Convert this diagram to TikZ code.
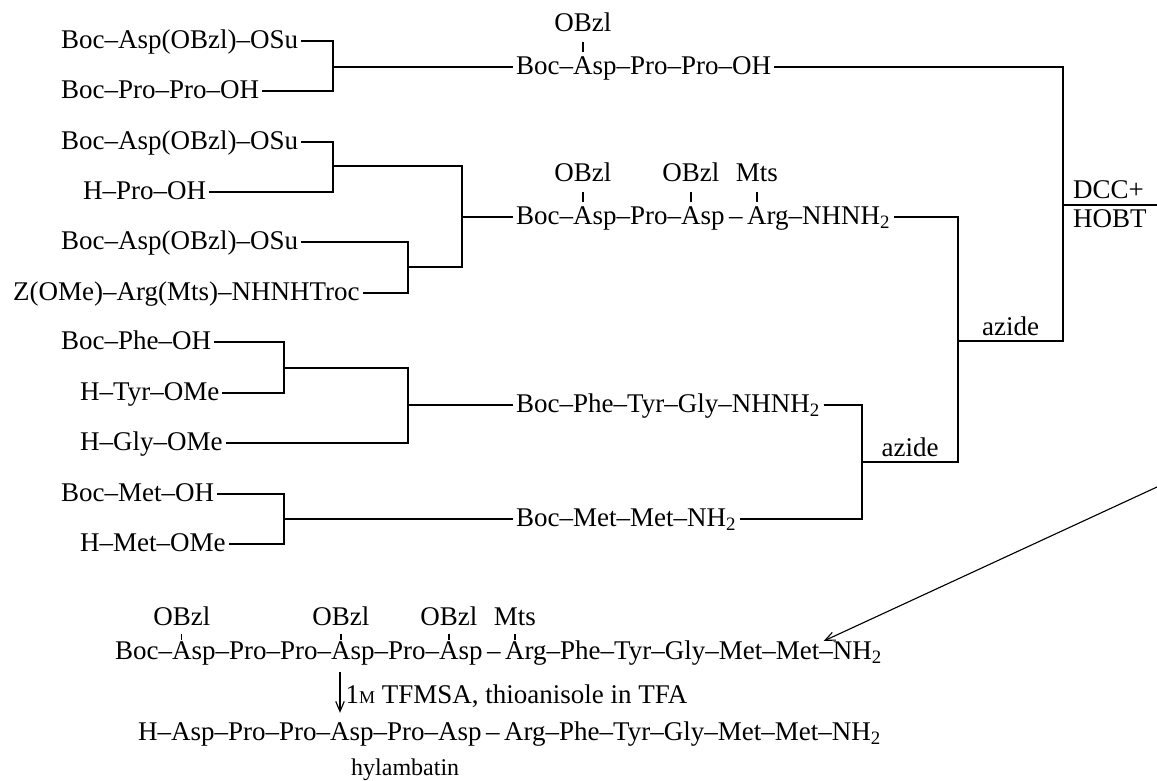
\documentclass[tikz,border=0pt]{standalone}
\usepackage{fontspec}
\setmainfont{Liberation Serif}
\usetikzlibrary{arrows.meta,positioning,calc}
\newcommand\pepfont{\fontsize{10.8}{12.9}\selectfont}
% protecting group set over a residue, with a short bond
\newcommand\grpraise{17pt}
\newcommand\tickbase{8.8pt}
\newcommand\ticklen{4pt}
\newcommand\sidegrp[2]{%
  \ooalign{#2\cr
    \hidewidth\raisebox{\grpraise}[0pt][0pt]{#1}\hidewidth\cr
    \hidewidth\raisebox{\tickbase}[0pt][0pt]{\rule{0.45pt}{\ticklen}}\hidewidth\cr}}
\tikzset{
  pep/.style={font=\pepfont, inner sep=1pt, text height=5.6pt, text depth=0pt, anchor=west},
  lbl/.style={font=\pepfont, inner sep=2pt, text height=5.6pt, text depth=0pt, above},
  lowgrp/.style={execute at begin node={\def\grpraise{13.6pt}\def\tickbase{7.6pt}\def\ticklen{2.4pt}}},
  thinarr/.style={-{Straight Barb[length=4pt,width=3.4pt]}, line width=0.45pt}
}
\begin{document}
\begin{tikzpicture}[x=0.4pt, y=-0.4pt, line width=0.55pt]
\useasboundingbox (0,0) rectangle (1157,780);

% starting materials
\node[pep] (a1) at (58,41) {Boc--Asp(OBzl)--OSu};
\node[pep] (a2) at (58,91) {Boc--Pro--Pro--OH};
\node[pep] (a3) at (58,142) {Boc--Asp(OBzl)--OSu};
\node[pep] (a4) at (80,192) {H--Pro--OH};
\node[pep] (a5) at (58,242) {Boc--Asp(OBzl)--OSu};
\node[pep] (a6) at (10,293) {Z(OMe)--Arg(Mts)--NHNHTroc};
\node[pep] (a7) at (58,342) {Boc--Phe--OH};
\node[pep] (a8) at (77,393) {H--Tyr--OMe};
\node[pep] (a9) at (77,443) {H--Gly--OMe};
\node[pep] (a10) at (58,494) {Boc--Met--OH};
\node[pep] (a11) at (77,544) {H--Met--OMe};

% fragments
\node[pep] (p1) at (513,67) {Boc--\sidegrp{OBzl}{A}sp--Pro--Pro--OH};
\node[pep] (p2) at (513,217) {Boc--\sidegrp{OBzl}{A}sp--Pro--\sidegrp{OBzl}{A}sp\,--\,\sidegrp{Mts}{A}rg--NHNH\textsubscript{2}};
\node[pep] (p3) at (513,405) {Boc--Phe--Tyr--Gly--NHNH\textsubscript{2}};
\node[pep] (p4) at (513,519) {Boc--Met--Met--NH\textsubscript{2}};

% junctions
\coordinate (j1) at (333,67);
\coordinate (j2) at (333,166);
\coordinate (j3) at (408,267);
\coordinate (j4) at (462,217);
\coordinate (j5) at (284,368);
\coordinate (j6) at (408,405);
\coordinate (j7) at (284,519);
\coordinate (j8) at (862,462);
\coordinate (j9) at (958,341);
\coordinate (j10) at (1063,205);
\coordinate (rim) at (1157,205);

\draw (a1.east) -| (j1) |- (a2.east);
\draw (j1) -- (p1.west);
\draw (a3.east) -| (j2) |- (a4.east);
\draw (a5.east) -| (j3) |- (a6.east);
\draw (j2) -| (j4) |- (j3);
\draw (j4) -- (p2.west);
\draw (a7.east) -| (j5) |- (a8.east);
\draw (j5) -| (j6) |- (a9.east);
\draw (j6) -- (p3.west);
\draw (a10.east) -| (j7) |- (a11.east);
\draw (j7) -- (p4.west);

\draw (p3.east) -| (j8) |- (p4.east);
\draw (p2.east) -| (j9) |- node[lbl, pos=.75] {azide} (j8);
\draw (p1.east) -| (j10) |- node[lbl, pos=.75] {azide} (j9);
\draw (j10) -- (rim);
\node[pep, anchor=base west] (dcc) at (1070,198) {DCC+};
\node[pep, anchor=base west] (hobt) at (1070,227) {HOBT};

% protected and free peptide
\node[pep, lowgrp] (prot) at (112,652) {Boc--\sidegrp{OBzl}{A}sp--Pro--Pro--\sidegrp{OBzl}{A}sp--Pro--\sidegrp{OBzl}{A}sp\,--\,\sidegrp{Mts}{A}rg--Phe--Tyr--Gly--Met--Met--NH\textsubscript{2}};
\node[pep] (free) at (135,733) {H--Asp--Pro--Pro--Asp--Pro--Asp\,--\,Arg--Phe--Tyr--Gly--Met--Met--NH\textsubscript{2}};
\node[pep, font=\fontsize{9.6}{11}\selectfont] (hyl) at (348,768) {hylambatin};

\coordinate (from) at (1157,487);
\draw[thinarr] (from) -- ($(prot.east)+(-62,-11)$);

\coordinate (cut) at (340,0);
\draw[thinarr, shorten <=4pt, shorten >=4pt] (prot.south -| cut) -- (free.north -| cut)
  node[pep, midway, xshift=1pt, yshift=-1.5pt] (cond) {1{\fontsize{7.2}{8}\selectfont M} TFMSA, thioanisole in TFA};
\end{tikzpicture}
\end{document}
